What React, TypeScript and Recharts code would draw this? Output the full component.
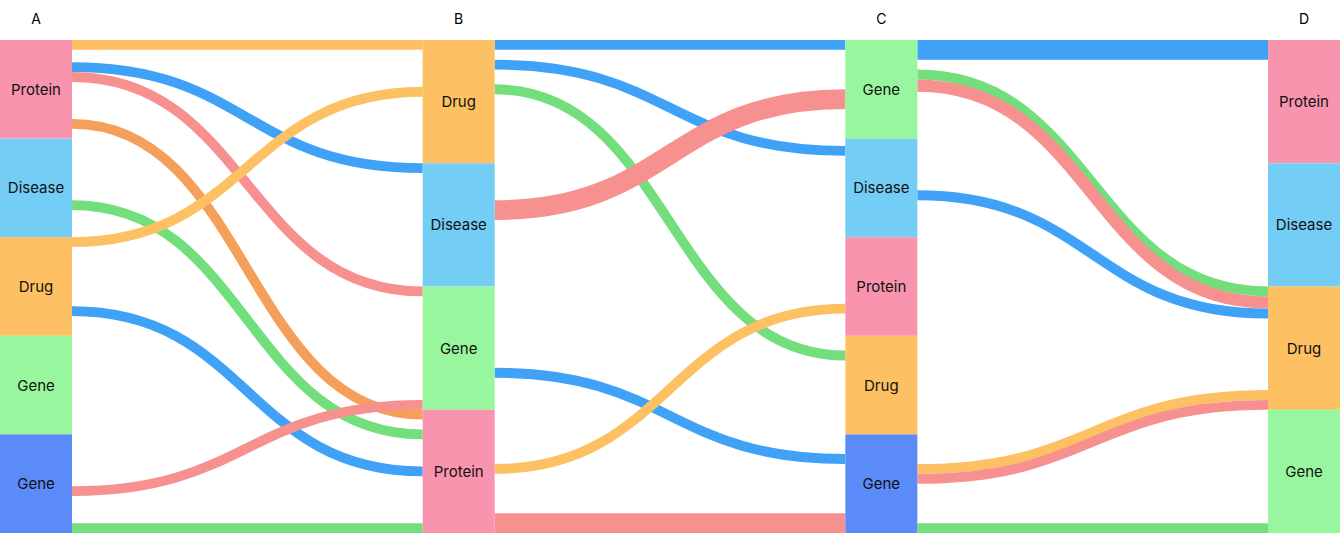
import React from "react";
import { Sankey } from "recharts";

const columns = ["A", "B", "C", "D"];

const nodeNames = [
  "Protein", "Disease", "Drug", "Gene", "Gene",
  "Drug", "Disease", "Gene", "Protein",
  "Gene", "Disease", "Protein", "Drug", "Gene",
  "Protein", "Disease", "Drug", "Gene",
];
const nodeColors = [
  "#F994AE", "#74CDF4", "#FDC062", "#98F79E", "#5B8AF9",
  "#FDC062", "#74CDF4", "#98F79E", "#F994AE",
  "#98F79E", "#74CDF4", "#F994AE", "#FDC062", "#5B8AF9",
  "#F994AE", "#74CDF4", "#FDC062", "#98F79E",
];

const BLUE = "#3FA2F7";
const RED = "#F79190";
const ORANGE = "#FDC062";
const DORANGE = "#F5A05A";
const GREEN = "#72DF7C";

// [source, target, value, color] ; color "" = spacer flow (not drawn)
const linksAB: [number, number, number, string][] = [
  [0, 5, 0.4, ORANGE], [0, 5, 0.5, ""], [0, 6, 0.4, BLUE], [0, 7, 0.4, RED], [0, 7, 1.5, ""],
  [0, 8, 0.4, DORANGE], [0, 8, 0.4, ""],
  [1, 5, 1.0, ""], [1, 6, 1.5, ""], [1, 8, 0.4, GREEN], [1, 8, 1.1, ""],
  [2, 5, 0.4, ORANGE], [2, 6, 1.8, ""], [2, 7, 0.6, ""], [2, 8, 0.4, BLUE], [2, 8, 0.8, ""],
  [3, 5, 2.7, ""], [3, 6, 1.3, ""],
  [4, 7, 2.1, ""], [4, 7, 0.4, RED], [4, 8, 1.1, ""], [4, 8, 0.4, GREEN],
];
const linksBC: [number, number, number, string][] = [
  [5, 9, 0.4, BLUE], [5, 9, 0.1, ""], [5, 10, 0.3, ""], [5, 10, 0.4, BLUE],
  [5, 12, 0.6, ""], [5, 12, 0.4, GREEN], [5, 12, 2.8, ""],
  [6, 9, 1.5, ""], [6, 9, 0.8, RED], [6, 9, 0.7, ""], [6, 10, 2.0, ""],
  [7, 9, 0.5, ""], [7, 10, 1.3, ""], [7, 11, 0.5, ""], [7, 12, 0.2, ""],
  [7, 13, 0.8, ""], [7, 13, 0.4, BLUE], [7, 13, 1.3, ""],
  [8, 11, 2.2, ""], [8, 11, 0.4, ORANGE], [8, 11, 0.9, ""], [8, 13, 0.7, ""], [8, 13, 0.8, RED],
];
const linksCD: [number, number, number, string][] = [
  [9, 14, 0.8, BLUE], [9, 14, 0.4, ""], [9, 16, 0.4, GREEN], [9, 16, 0.5, RED], [9, 17, 1.9, ""],
  [10, 14, 2.1, ""], [10, 16, 0.4, BLUE], [10, 16, 1.0, ""], [10, 17, 0.5, ""],
  [11, 14, 1.7, ""], [11, 15, 2.3, ""],
  [12, 15, 2.7, ""], [12, 16, 0.7, ""], [12, 17, 0.6, ""],
  [13, 16, 1.2, ""], [13, 16, 0.4, ORANGE], [13, 16, 0.4, RED], [13, 17, 1.6, ""], [13, 17, 0.4, GREEN],
];

const data = {
  nodes: nodeNames.map((name, i) => ({ name, color: nodeColors[i] })),
  links: [...linksAB, ...linksBC, ...linksCD].map(([source, target, value, color]) => ({
    source,
    target,
    value,
    color,
  })),
};

const NodeBox = (props: any) => {
  const { x, y, width, height, payload } = props;
  return (
    <g>
      <rect x={x} y={y} width={width} height={height} fill={payload.color} />
      <text
        x={x + width / 2}
        y={y + height / 2}
        textAnchor="middle"
        dominantBaseline="central"
        fontSize={15}
        fontFamily="Inter, sans-serif"
        fill="#111"
      >
        {payload.name}
      </text>
    </g>
  );
};

const Flow = (props: any) => {
  const { sourceX, targetX, sourceY, targetY, sourceControlX, targetControlX, linkWidth, payload } = props;
  if (!payload.color) return null;
  return (
    <path
      d={`M${sourceX},${sourceY} C${sourceControlX},${sourceY} ${targetControlX},${targetY} ${targetX},${targetY}`}
      fill="none"
      stroke={payload.color}
      strokeWidth={linkWidth}
    />
  );
};

const App = () => (
  <div style={{ position: "absolute", left: 0, top: 0, width: 1340, height: 535, background: "#fff" }}>
    {columns.map((c, i) => (
      <div
        key={c}
        style={{
          position: "absolute",
          top: 10,
          left: 36 + i * 422.7 - 10,
          width: 20,
          textAlign: "center",
          fontFamily: "Inter, sans-serif",
          fontSize: 14,
        }}
      >
        {c}
      </div>
    ))}
    <Sankey
      width={1340}
      height={535}
      data={data}
      nodeWidth={72}
      nodePadding={0}
      iterations={0}
      sort={false}
      margin={{ top: 40, right: 0, bottom: 2, left: 0 }}
      node={<NodeBox />}
      link={<Flow />}
    />
  </div>
);

export default App;
